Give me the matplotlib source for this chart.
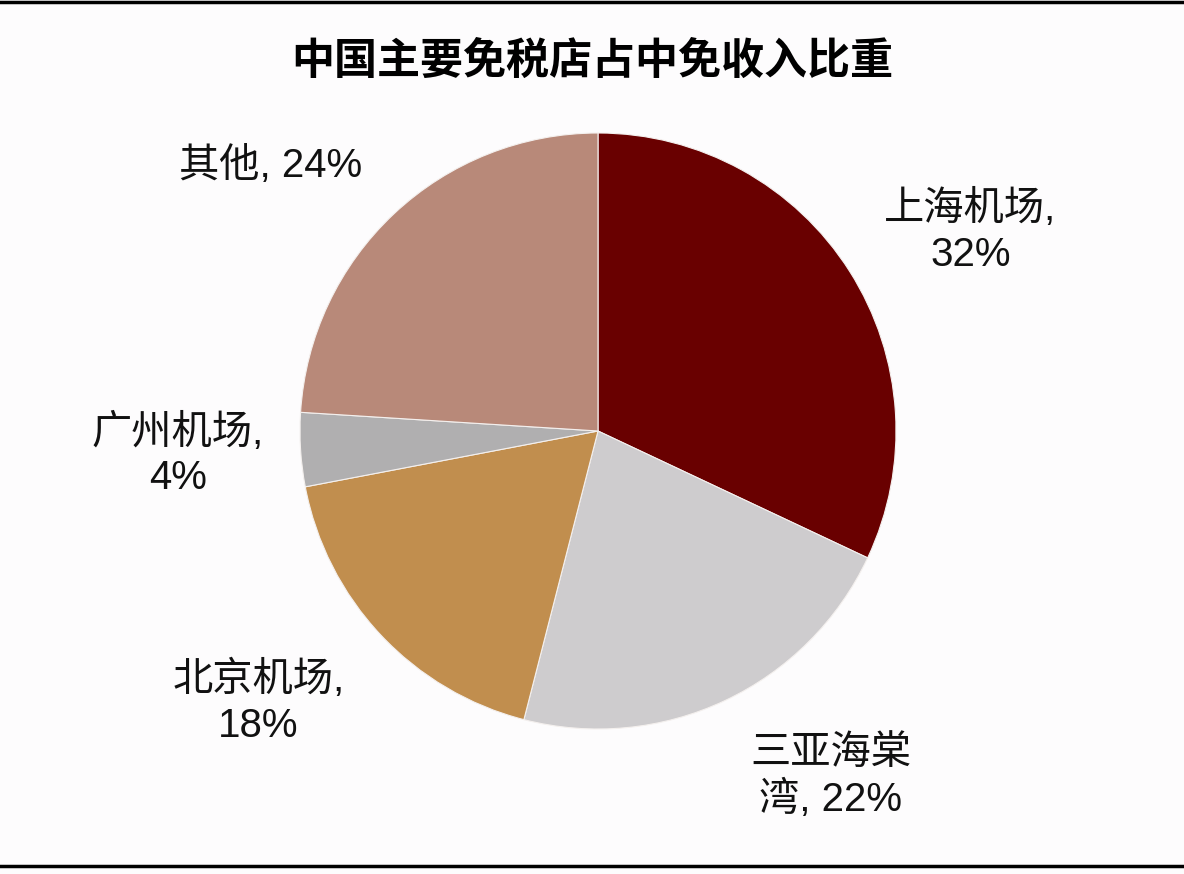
import matplotlib
matplotlib.use("Agg")
import matplotlib.pyplot as plt
from matplotlib.lines import Line2D

plt.rcParams["font.family"] = ["Liberation Sans", "Noto Sans CJK SC", "DejaVu Sans"]

title = "中国主要免税店占中免收入比重"
names = ["上海机场,\n32%", "三亚海棠\n湾, 22%", "北京机场,\n18%", "广州机场,\n4%", "其他, 24%"]
shares = [32, 22, 18, 4, 24]
colors = ["#690000", "#CECCCE", "#C18E4E", "#B0AFB0", "#B88979"]
# label centres in axes data units (pie radius = 1)
label_xy = [(1.25, 0.67), (0.78, -1.16), (-1.14, -0.91), (-1.41, -0.08), (-1.10, 0.89)]

W, H = 1184, 874
fig = plt.figure(figsize=(W / 100, H / 100), dpi=100, facecolor="#FDFCFD")

# pie centre (598, 431) px, radius 298 px
cx, cy, r = 598, 431, 298
ax = fig.add_axes([(cx - r) / W, (H - cy - r) / H, 2 * r / W, 2 * r / H])
ax.pie(shares, colors=colors, startangle=90, counterclock=False, radius=1,
       wedgeprops=dict(edgecolor="#F4F0EE", linewidth=0.8))
ax.set_xlim(-1, 1)
ax.set_ylim(-1, 1)
ax.set_aspect("equal")
ax.axis("off")

for txt, (x, y) in zip(names, label_xy):
    ax.text(x, y, txt, ha="center", va="center", fontsize=29,
            linespacing=1.25, color="#111111", clip_on=False)

fig.text(0.5, 1 - 61 / H, title, ha="center", va="center", fontsize=31,
         fontweight="bold", family=["Noto Sans CJK SC"], color="#000000")

# top and bottom rules
fig.add_artist(Line2D([0, 1], [1 - 1.5 / H, 1 - 1.5 / H], color="black", lw=2.5))
fig.add_artist(Line2D([0, 1], [1 - 866 / H, 1 - 866 / H], color="black", lw=2.5))

fig.savefig("out.png", dpi=100, facecolor=fig.get_facecolor())
